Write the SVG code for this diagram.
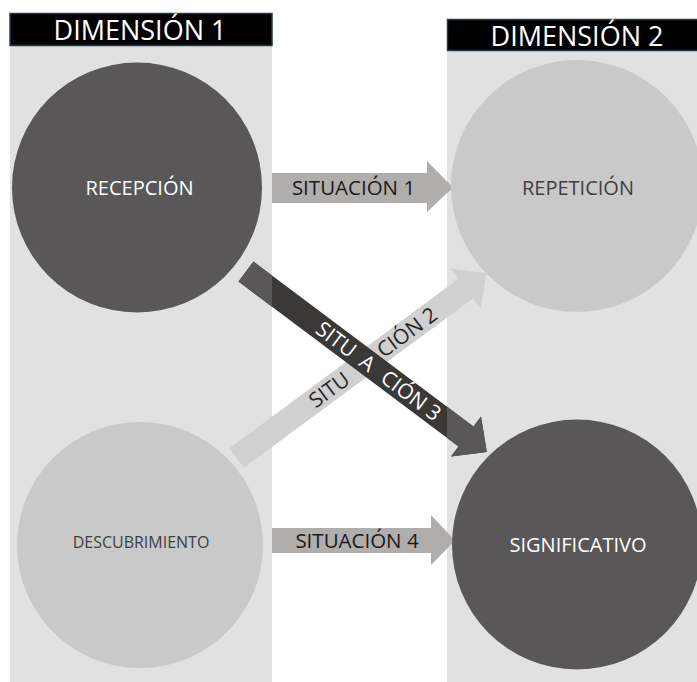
<svg xmlns="http://www.w3.org/2000/svg" width="697" height="682" viewBox="0 0 697 682">
  <style>
    .panel { fill: #e1e1e1; }
    .header { fill: #000000; stroke: #243a4e; stroke-width: 1.5; }
    .header-text { font-family: "Open Sans", "DejaVu Sans", sans-serif; font-size: 27px; fill: #ffffff; text-anchor: middle; }
    .dark { fill: #595757; }
    .light { fill: #c9c9c9; }
    .lbl { font-family: "Open Sans", "DejaVu Sans", sans-serif; font-size: 20px; text-anchor: middle; }
    .lbl-small { font-size: 16px; }
    .lbl-light { fill: #ffffff; }
    .lbl-dark { fill: #3f3f3f; }
    .harrow { fill: #b0adad; }
    .harrow-text { font-family: "Open Sans", "DejaVu Sans", sans-serif; font-size: 20.5px; fill: #1a1a1a; text-anchor: middle; }
    .darrow { fill: #3b3838; }
    .darrow-panel { fill: #595757; }
    .larrow { fill: #d0d0d0; }
    .dtext { font-family: "Open Sans", "DejaVu Sans", sans-serif; font-size: 21px; fill: #ffffff; text-anchor: middle; }
    .ltext { font-family: "Open Sans", "DejaVu Sans", sans-serif; font-size: 21px; fill: #262626; text-anchor: middle; }
  </style>
  <defs>
    <clipPath id="panels">
      <rect x="10" y="46" width="262" height="636"/>
      <rect x="447" y="51" width="250" height="631"/>
    </clipPath>
    <path id="arrow3-shape" d="M0,-12.5 H275 V-25 L301,0 L275,25 V12.5 H0 Z" transform="translate(246,271.5) rotate(36.87)"/>
  </defs>

  <!-- column backgrounds -->
  <g id="columns">
    <rect class="panel" x="10" y="46" width="262" height="636"/>
    <rect class="panel" x="447" y="51" width="250" height="631"/>
  </g>

  <!-- column headers -->
  <g id="header-1">
    <rect class="header" x="10" y="13.5" width="262" height="32"/>
    <text class="header-text" x="140" y="39.5">DIMENSIÓN 1</text>
  </g>
  <g id="header-2">
    <rect class="header" x="447.5" y="19.5" width="252" height="31"/>
    <text class="header-text" x="577" y="45.5">DIMENSIÓN 2</text>
  </g>

  <!-- connectors -->
  <g id="connectors">
    <!-- situación 1 -->
    <g id="arrow-1">
      <path class="harrow" d="M272,173 H427 V161 L453,187.5 L427,212 V203 H272 Z"/>
      <text class="harrow-text" x="353.5" y="195">SITUACIÓN 1</text>
    </g>
    <!-- situación 4 -->
    <g id="arrow-4">
      <path class="harrow" d="M272,528 H431 V515 L455,540.5 L431,565 V553 H272 Z"/>
      <text class="harrow-text" x="357" y="548">SITUACIÓN 4</text>
    </g>
    <!-- situación 2 (rising) -->
    <g id="arrow-2" transform="translate(236.5,458) rotate(-36.45)">
      <path class="larrow" d="M0,-12.2 H285 V-25 L311,0 L285,25 V12.2 H0 Z"/>
      <text class="ltext" y="7.5"><tspan x="115">SITU</tspan><tspan x="211.8">CIÓN 2</tspan></text>
    </g>
    <!-- situación 3 (falling), darker where it crosses the gap between columns -->
    <g id="arrow-3">
      <use href="#arrow3-shape" class="darrow"/>
      <use href="#arrow3-shape" class="darrow-panel" clip-path="url(#panels)"/>
      <text class="dtext" y="7.5" transform="translate(246,271.5) rotate(36.87)"><tspan x="113">SITU</tspan><tspan x="152">A</tspan><tspan x="206.5">CIÓN 3</tspan></text>
    </g>
  </g>

  <!-- nodes -->
  <g id="recepcion">
    <circle class="dark" cx="137" cy="187.5" r="125"/>
    <text class="lbl lbl-light" x="139.5" y="195">RECEPCIÓN</text>
  </g>
  <g id="descubrimiento">
    <circle class="light" cx="140" cy="545" r="123"/>
    <text class="lbl lbl-small lbl-dark" x="141" y="547.5">DESCUBRIMIENTO</text>
  </g>
  <g id="repeticion">
    <circle class="light" cx="577" cy="186" r="126"/>
    <text class="lbl lbl-dark" x="578" y="195">REPETICIÓN</text>
  </g>
  <g id="significativo">
    <circle class="dark" cx="577" cy="544.5" r="125"/>
    <text class="lbl lbl-light" x="578" y="552">SIGNIFICATIVO</text>
  </g>
</svg>
